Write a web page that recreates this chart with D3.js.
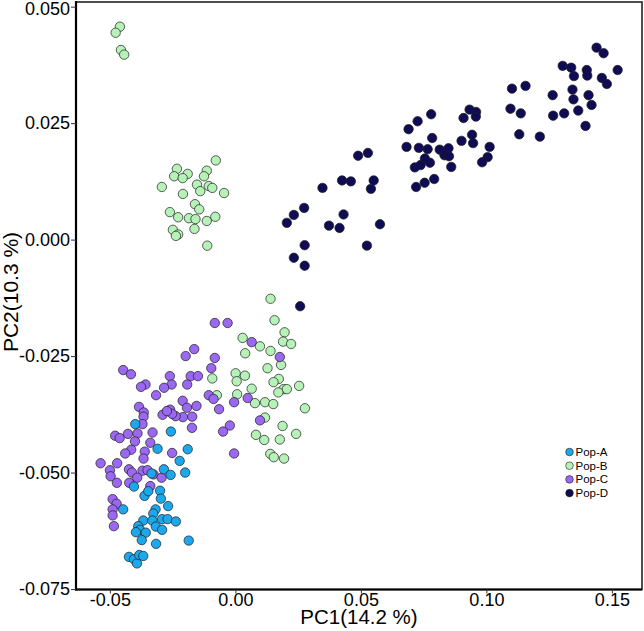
<!DOCTYPE html>
<html>
<head>
<meta charset="utf-8">
<script src="https://cdn.jsdelivr.net/npm/d3@7"></script>
<style>
  html, body { margin: 0; padding: 0; background: #ffffff; }
  svg { display: block; }
</style>
</head>
<body>
<svg id="chart" width="644" height="631"></svg>
<script>
// ---- data (PC1, PC2) ----
const groups = ["Pop-A", "Pop-B", "Pop-C", "Pop-D"];
const colors = ["#1ba8ec", "#b6f2b8", "#9b68f2", "#0f0c55"];

const popA = [
  [-0.0399,-0.0396],[-0.0257,-0.0412],[-0.0190,-0.0450],[-0.0310,-0.0449],[-0.0222,-0.0475],
  [-0.0285,-0.0493],[-0.0258,-0.0505],[-0.0200,-0.0500],[-0.0334,-0.0502],[-0.0404,-0.0530],
  [-0.0362,-0.0550],[-0.0347,-0.0540],[-0.0300,-0.0539],[-0.0297,-0.0556],[-0.0268,-0.0572],
  [-0.0318,-0.0579],[-0.0327,-0.0588],[-0.0447,-0.0579],[-0.0367,-0.0603],[-0.0331,-0.0603],
  [-0.0292,-0.0600],[-0.0270,-0.0600],[-0.0237,-0.0605],[-0.0387,-0.0615],[-0.0380,-0.0623],
  [-0.0396,-0.0628],[-0.0357,-0.0629],[-0.0317,-0.0616],[-0.0292,-0.0623],[-0.0373,-0.0645],
  [-0.0316,-0.0653],[-0.0186,-0.0646],[-0.0424,-0.0681],[-0.0404,-0.0686],[-0.0392,-0.0695],
  [-0.0383,-0.0677],[-0.0367,-0.0679]
];

const popB = [
  [-0.0460,0.0457],[-0.0477,0.0444],[-0.0456,0.0407],[-0.0443,0.0397],
  [-0.0078,0.0170],[-0.0233,0.0152],[-0.0190,0.0141],[-0.0244,0.0136],[-0.0210,0.0132],
  [-0.0114,0.0148],[-0.0125,0.0136],[-0.0293,0.0113],[-0.0153,0.0118],[-0.0106,0.0115],
  [-0.0092,0.0111],[-0.0140,0.0104],[-0.0045,0.0100],[-0.0209,0.0098],[-0.0161,0.0076],
  [-0.0144,0.0065],[-0.0261,0.0059],[-0.0228,0.0048],[-0.0185,0.0046],[-0.0159,0.0044],
  [-0.0114,0.0040],[-0.0080,0.0049],[-0.0249,0.0021],[-0.0163,0.0023],[-0.0228,0.0011],
  [-0.0237,0.0008],[-0.0112,-0.0013],
  [0.0140,-0.0127],[0.0156,-0.0173],[0.0196,-0.0199],[0.0029,-0.0211],[0.0190,-0.0219],
  [0.0222,-0.0224],[0.0098,-0.0229],[0.0140,-0.0239],[0.0039,-0.0244],[0.0182,-0.0269],
  [0.0128,-0.0276],[0.0001,-0.0287],[0.0038,-0.0292],[0.0005,-0.0304],[0.0173,-0.0299],
  [0.0152,-0.0306],[0.0254,-0.0314],[0.0065,-0.0320],[0.0192,-0.0321],[0.0205,-0.0321],
  [0.0171,-0.0328],[-0.0074,-0.0334],[0.0007,-0.0332],[-0.0092,-0.0298],[0.0078,-0.0351],
  [0.0118,-0.0349],[0.0151,-0.0353],[0.0277,-0.0362],[0.0118,-0.0382],[0.0188,-0.0400],
  [0.0082,-0.0419],[0.0115,-0.0430],[0.0177,-0.0429],[0.0242,-0.0417],[0.0139,-0.0460],
  [0.0153,-0.0467],[0.0194,-0.0470]
];

const popC = [
  [-0.0082,-0.0179],[-0.0031,-0.0179],[0.0065,-0.0220],[0.0177,-0.0252],[-0.0164,-0.0235],
  [-0.0198,-0.0250],[-0.0082,-0.0254],[-0.0447,-0.0280],[-0.0416,-0.0289],[-0.0261,-0.0293],
  [-0.0254,-0.0311],[-0.0284,-0.0318],[-0.0358,-0.0311],[-0.0376,-0.0316],[-0.0316,-0.0334],
  [-0.0178,-0.0293],[-0.0149,-0.0293],[-0.0192,-0.0311],[-0.0096,-0.0276],[-0.0106,-0.0334],
  [-0.0087,-0.0342],[-0.0065,-0.0364],[-0.0005,-0.0349],[0.0049,-0.0340],[0.0098,-0.0388],
  [-0.0022,-0.0399],[-0.0049,-0.0412],[-0.0005,-0.0459],[-0.0210,-0.0346],[-0.0193,-0.0361],
  [-0.0155,-0.0357],[-0.0172,-0.0380],[-0.0209,-0.0381],[-0.0238,-0.0379],[-0.0260,-0.0365],
  [-0.0252,-0.0374],[-0.0290,-0.0376],[-0.0273,-0.0368],[-0.0384,-0.0359],[-0.0365,-0.0371],
  [-0.0366,-0.0380],[-0.0370,-0.0396],[-0.0173,-0.0404],[-0.0479,-0.0421],[-0.0461,-0.0426],
  [-0.0428,-0.0417],[-0.0390,-0.0416],[-0.0330,-0.0414],[-0.0400,-0.0433],[-0.0339,-0.0436],
  [-0.0415,-0.0451],[-0.0439,-0.0459],[-0.0361,-0.0455],[-0.0366,-0.0470],[-0.0252,-0.0458],
  [-0.0537,-0.0480],[-0.0471,-0.0480],[-0.0424,-0.0493],[-0.0412,-0.0500],[-0.0370,-0.0496],
  [-0.0350,-0.0495],[-0.0326,-0.0504],[-0.0500,-0.0495],[-0.0497,-0.0508],[-0.0472,-0.0522],
  [-0.0423,-0.0522],[-0.0391,-0.0511],[-0.0294,-0.0511],[-0.0339,-0.0529],[-0.0489,-0.0557],
  [-0.0473,-0.0567],[-0.0489,-0.0579],[-0.0489,-0.0592],[-0.0484,-0.0615]
];

const popD = [
  [0.1439,0.0412],[0.1467,0.0400],[0.1304,0.0373],[0.1338,0.0369],[0.1349,0.0351],
  [0.1400,0.0364],[0.1402,0.0352],[0.1523,0.0364],[0.1460,0.0347],[0.1480,0.0334],
  [0.1102,0.0324],[0.1156,0.0330],[0.1264,0.0310],[0.1343,0.0322],[0.1347,0.0301],
  [0.1407,0.0310],[0.1419,0.0289],[0.1096,0.0281],[0.1137,0.0271],[0.1266,0.0266],
  [0.1310,0.0271],[0.1366,0.0277],[0.1395,0.0244],[0.1131,0.0226],[0.1213,0.0221],
  [0.0933,0.0279],[0.0959,0.0274],[0.0909,0.0261],[0.0958,0.0264],[0.0780,0.0269],
  [0.0726,0.0254],[0.0690,0.0237],[0.0784,0.0218],[0.0901,0.0212],[0.0943,0.0225],
  [0.0947,0.0207],[0.1013,0.0199],[0.0682,0.0199],[0.0731,0.0197],[0.0766,0.0194],
  [0.0814,0.0193],[0.0849,0.0196],[0.0833,0.0181],[0.0851,0.0179],[0.0755,0.0174],
  [0.0775,0.0165],[0.0738,0.0160],[0.0715,0.0155],[0.0860,0.0156],[0.1005,0.0177],
  [0.0983,0.0166],[0.0792,0.0130],[0.0754,0.0122],[0.0720,0.0113],[0.0489,0.0180],
  [0.0528,0.0186],[0.0347,0.0111],[0.0425,0.0127],[0.0460,0.0125],[0.0551,0.0127],
  [0.0540,0.0109],[0.0431,0.0054],[0.0373,0.0030],[0.0415,0.0025],[0.0576,0.0033],
  [0.0524,-0.0013],[0.0205,0.0036],[0.0233,0.0053],[0.0274,0.0068],[0.0276,-0.0012],
  [0.0233,-0.0039],[0.0276,-0.0056],[0.0258,-0.0143]
];

const xTicks = [-0.05, 0.00, 0.05, 0.10, 0.15];
const xTickLabels = ["-0.05", "0.00", "0.05", "0.10", "0.15"];
const yTicks = [-0.075, -0.050, -0.025, 0.000, 0.025, 0.050];
const yTickLabels = ["-0.075", "-0.050", "-0.025", "0.000", "0.025", "0.050"];
const xTitle = "PC1(14.2 %)";
const yTitle = "PC2(10.3 %)";

// ---- layout ----
const svg = d3.select("#chart");
const pLeft = 76, pRight = 642, pTop = 2, pBottom = 589.5;
const font = "'Liberation Sans', Arial, Helvetica, sans-serif";

const x = d3.scaleLinear().domain([-0.0635, 0.1620]).range([pLeft, pRight]);
const y = d3.scaleLinear().domain([-0.0751, 0.0510]).range([pBottom, pTop]);

// panel border
svg.append("rect")
  .attr("x", pLeft).attr("y", pTop)
  .attr("width", pRight - pLeft).attr("height", pBottom - pTop)
  .attr("fill", "none").attr("stroke", "#222").attr("stroke-width", 1.6);

// axes
const xAxis = d3.axisBottom(x).tickValues(xTicks)
  .tickFormat((d, i) => xTickLabels[i]).tickSize(4).tickSizeOuter(0).tickPadding(0);
const yAxis = d3.axisLeft(y).tickValues(yTicks)
  .tickFormat((d, i) => yTickLabels[i]).tickSize(5).tickSizeOuter(0).tickPadding(1);

const gx = svg.append("g").attr("transform", `translate(0,${pBottom})`).call(xAxis);
const gy = svg.append("g").attr("transform", `translate(${pLeft},0)`).call(yAxis);

[gx, gy].forEach(g => {
  g.select(".domain").attr("stroke", "#000").attr("stroke-width", 2.2);
  g.selectAll(".tick line").attr("stroke", "#333").attr("stroke-width", 1);
  g.selectAll(".tick text").attr("fill", "#000")
    .style("font-family", font).style("font-size", "18px");
});
gy.select(".domain").attr("d", `M0,${pBottom + 1}V${pTop - 1}`);
gx.select(".domain").attr("d", `M${pLeft - 1},0H${pRight}`);
// nudge the top label slightly so it stays inside the picture
gy.selectAll(".tick text").filter((d, i) => i === yTicks.length - 1).attr("dy", "0.45em");

// axis titles
svg.append("text")
  .attr("x", (pLeft + pRight) / 2).attr("y", 624)
  .attr("text-anchor", "middle")
  .style("font-family", font).style("font-size", "20.5px")
  .text(xTitle);

svg.append("text")
  .attr("transform", `translate(18,292) rotate(-90)`)
  .attr("text-anchor", "middle")
  .style("font-family", font).style("font-size", "21px")
  .text(yTitle);

// points
const data = [popB, popC, popA, popD];
const order = [1, 2, 0, 3];
const plot = svg.append("g");
order.forEach((gi, k) => {
  plot.append("g").selectAll("circle")
    .data(data[k])
    .join("circle")
    .attr("cx", d => x(d[0]))
    .attr("cy", d => y(d[1]))
    .attr("r", 4.7)
    .attr("fill", colors[gi])
    .attr("stroke", "#1d1d1d")
    .attr("stroke-width", 0.7);
});

// legend
const legend = svg.append("g").attr("transform", "translate(569.5,452)");
groups.forEach((g, i) => {
  const row = legend.append("g").attr("transform", `translate(0,${i * 13.7})`);
  row.append("circle").attr("r", 3.8)
    .attr("fill", colors[i]).attr("stroke", "#1d1d1d").attr("stroke-width", 0.6);
  row.append("text").attr("x", 6).attr("y", 4)
    .style("font-family", font).style("font-size", "11.5px")
    .text(g);
});
</script>
</body>
</html>
